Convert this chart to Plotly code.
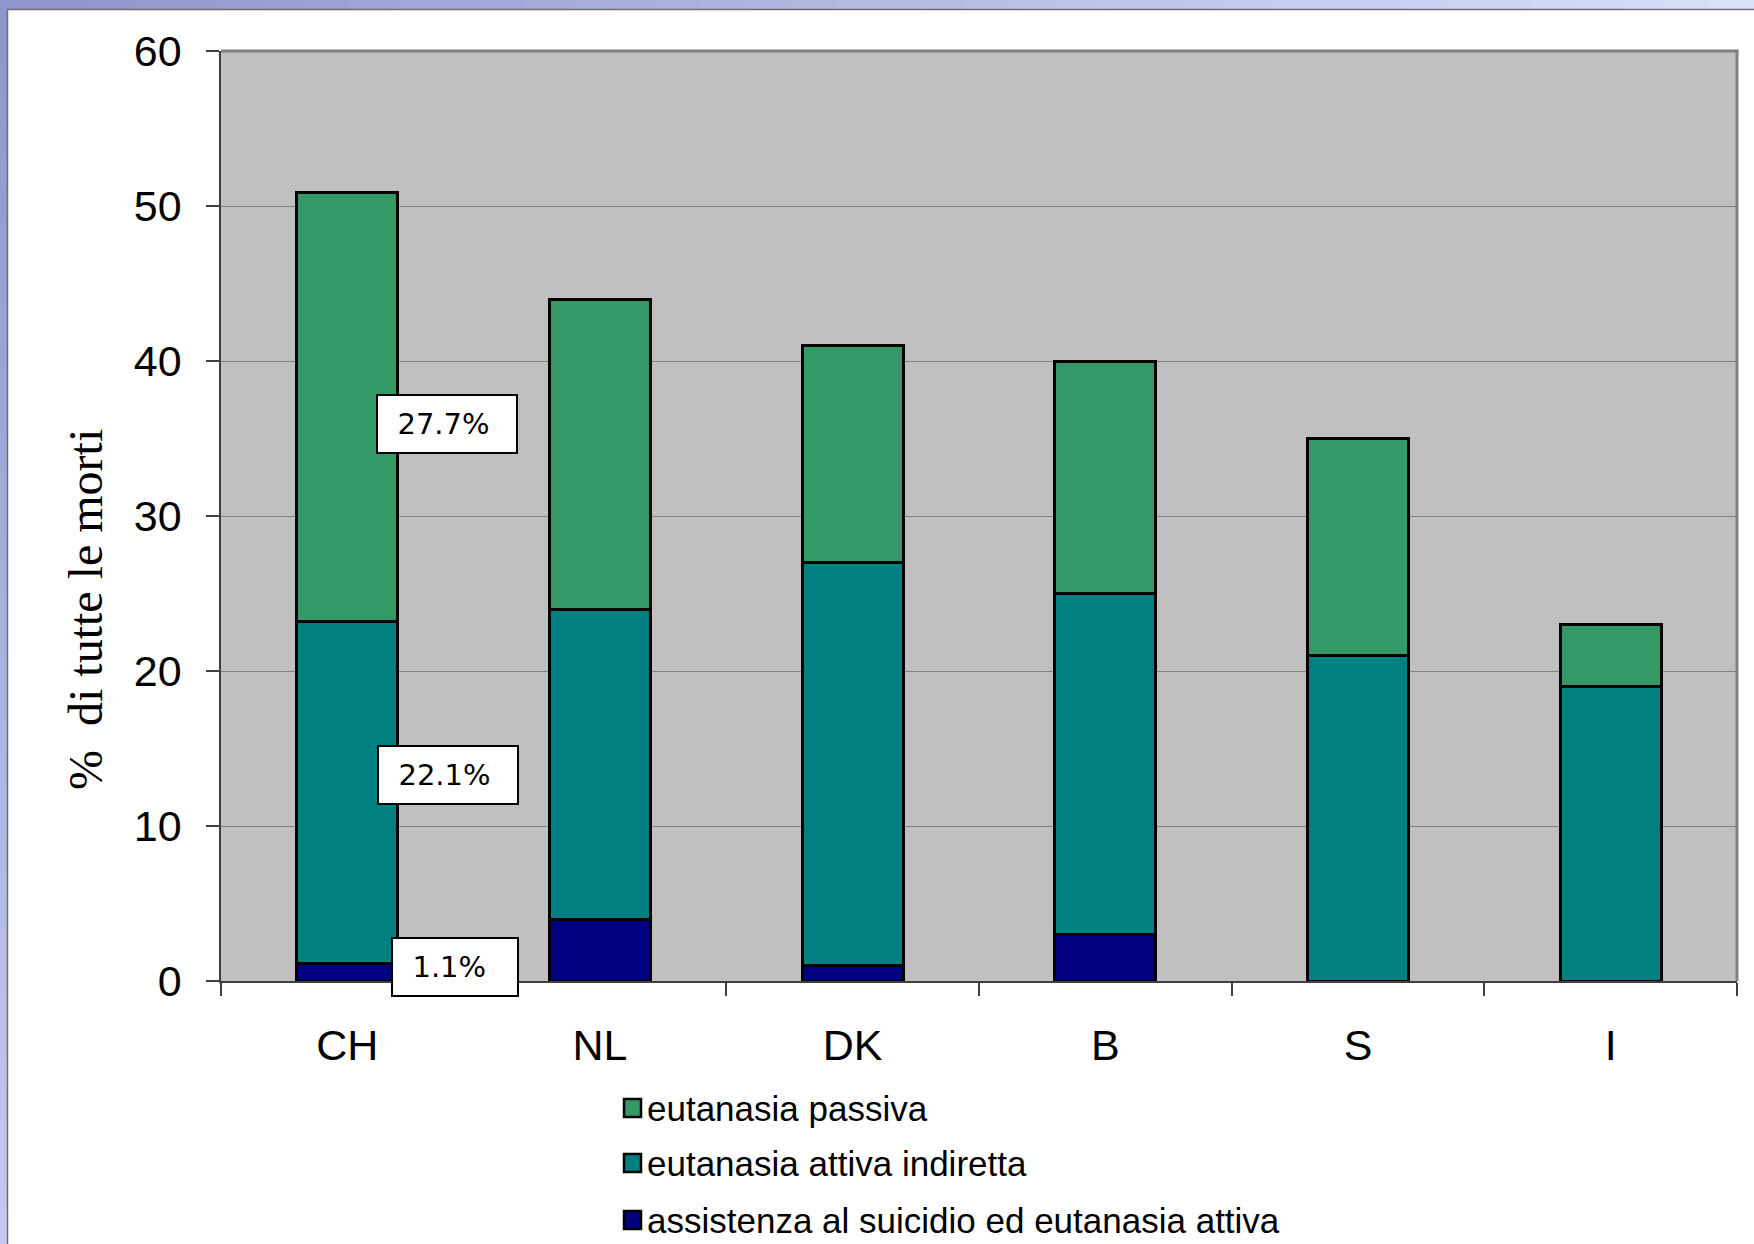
import plotly.graph_objects as go

# ---- data ----
countries = ["CH", "NL", "DK", "B", "S", "I"]
assistenza = [1.1, 4, 1, 3, 0, 0]          # assistenza al suicidio ed eutanasia attiva
attiva_indiretta = [22.1, 20, 26, 22, 21, 19]  # eutanasia attiva indiretta
passiva = [27.7, 20, 14, 15, 14, 4]        # eutanasia passiva
series_names = ["assistenza al suicidio ed eutanasia attiva",
                "eutanasia attiva indiretta",
                "eutanasia passiva"]
y_ticks = [0, 10, 20, 30, 40, 50, 60]

colors = ["#000080", "#008080", "#339966"]

W, H = 1754, 1244
L, R, T, B = 221, 17, 51, 263
PW, PH = W - L - R, H - T - B


def px(p):
    return (p - L) / PW


def py(p):
    return (H - B - p) / PH


fig = go.Figure()
for name, vals, col in zip(series_names, [assistenza, attiva_indiretta, passiva], colors):
    fig.add_trace(go.Bar(
        x=countries, y=vals, name=name,
        marker=dict(color=col, line=dict(color="black", width=3)),
        width=0.4, showlegend=False,
    ))

shapes = []
# gradient frame (top band and left band)
n = 40
c0 = (0x8e, 0x96, 0xcc)
c1 = (0xd6, 0xe0, 0xfb)
c2 = (0xc2, 0xca, 0xf2)
for i in range(n):
    t = i / (n - 1)
    col = "rgb(%d,%d,%d)" % tuple(int(a + (b - a) * t) for a, b in zip(c0, c1))
    shapes.append(dict(type="rect", xref="paper", yref="paper",
                       x0=px(W * i / n), x1=px(W * (i + 1) / n + 1),
                       y0=py(9), y1=py(0), fillcolor=col, line_width=0, layer="above"))
    col2 = "rgb(%d,%d,%d)" % tuple(int(a + (b - a) * t) for a, b in zip(c0, c2))
    shapes.append(dict(type="rect", xref="paper", yref="paper",
                       x0=px(0), x1=px(7),
                       y0=py(H * (i + 1) / n + 1), y1=py(H * i / n), fillcolor=col2,
                       line_width=0, layer="above"))
shapes.append(dict(type="line", xref="paper", yref="paper", x0=px(7), x1=px(W),
                   y0=py(9.5), y1=py(9.5), line=dict(color="#6e6e6e", width=1.5)))
shapes.append(dict(type="line", xref="paper", yref="paper", x0=px(7.5), x1=px(7.5),
                   y0=py(H), y1=py(9.5), line=dict(color="#6e6e6e", width=1.5)))
# plot border top / right
shapes.append(dict(type="line", xref="paper", yref="paper", x0=0, x1=1.001, y0=1, y1=1,
                   line=dict(color="#808080", width=3)))
shapes.append(dict(type="line", xref="paper", yref="paper", x0=1, x1=1, y0=0, y1=1.001,
                   line=dict(color="#808080", width=3)))

# custom legend
legend_rows = [(1108, series_names[2], colors[2]),
               (1163, series_names[1], colors[1]),
               (1220, series_names[0], colors[0])]
annotations = []
for yc, name, col in legend_rows:
    shapes.append(dict(type="rect", xref="paper", yref="paper",
                       x0=px(624), x1=px(641), y0=py(yc + 9), y1=py(yc - 9),
                       fillcolor=col, line=dict(color="black", width=2.5)))
    annotations.append(dict(xref="paper", yref="paper", x=px(645), y=py(yc),
                            xanchor="left", yanchor="middle", showarrow=False,
                            text=name, font=dict(family="Liberation Sans, Arial", size=35, color="black")))

# value boxes for CH
boxes = [((446.5, 423.5), passiva[0]),
         ((448, 774.5), attiva_indiretta[0]),
         ((455, 967), assistenza[0])]
for (bx, by), v in boxes:
    annotations.append(dict(xref="paper", yref="paper", x=px(bx), y=py(by),
                            xanchor="center", yanchor="middle", showarrow=False,
                            text=f"&nbsp;&nbsp;{v}%", align="left",
                            width=136 if v > 10 else 122, height=54,
                            bgcolor="white", bordercolor="black", borderwidth=2, borderpad=1,
                            font=dict(family="DejaVu Sans", size=29, color="black")))

# y axis title
annotations.append(dict(xref="paper", yref="paper", x=px(85), y=py(610),
                        xanchor="center", yanchor="middle", showarrow=False, textangle=-90,
                        text="%  di tutte le morti",
                        font=dict(family="Liberation Serif, Times New Roman", size=48, color="black")))

fig.update_layout(
    width=W, height=H,
    margin=dict(l=L, r=R, t=T, b=B),
    paper_bgcolor="white", plot_bgcolor="#c0c0c0",
    barmode="stack", bargap=0.6,
    shapes=shapes, annotations=annotations,
    font=dict(family="Liberation Sans, Arial", color="black"),
)
fig.update_xaxes(
    type="category", tickson="boundaries", ticks="outside", ticklen=13, tickwidth=1.5,
    tickcolor="#404040", showline=True, linecolor="#404040", linewidth=1.5,
    tickfont=dict(size=43), ticklabelstandoff=26, showgrid=False,
)
fig.update_yaxes(
    range=[0, 60], tickvals=y_ticks, ticks="outside", ticklen=13, tickwidth=1.5,
    tickcolor="#404040", showline=True, linecolor="#404040", linewidth=1.5,
    showgrid=True, gridcolor="#808080", gridwidth=1, zeroline=False,
    tickfont=dict(size=43), ticklabelstandoff=16,
)

fig.write_html("out.html", config={"displayModeBar": False},
               post_script="document.body.style.margin='0';document.body.style.overflow='hidden';")
